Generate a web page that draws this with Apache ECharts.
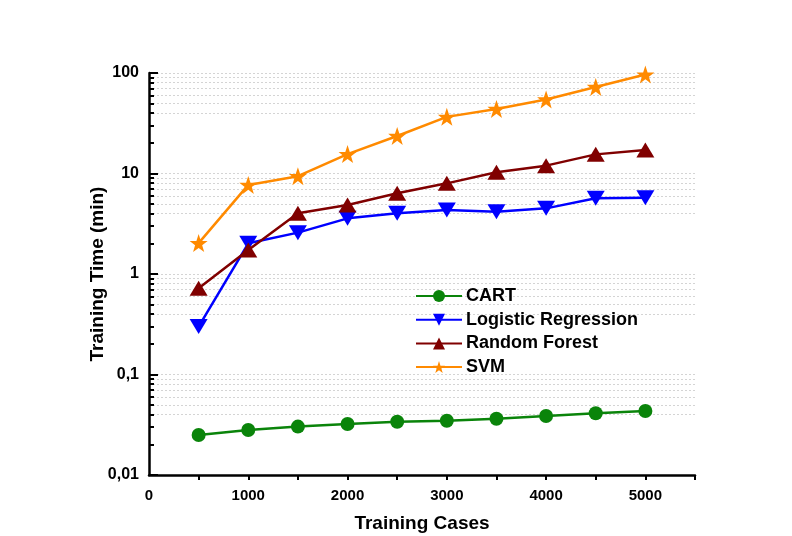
<!DOCTYPE html>
<html>
<head>
<meta charset="utf-8">
<script src="https://cdn.jsdelivr.net/npm/echarts@6/dist/echarts.min.js"></script>
<style>html,body{margin:0;padding:0;background:#fff;}#c{width:792px;height:536px;}</style>
</head>
<body>
<div id="c"></div>
<script>
var trainingCases = [500, 1000, 1500, 2000, 2500, 3000, 3500, 4000, 4500, 5000];
var cart = [0.025, 0.028, 0.0303, 0.0322, 0.0339, 0.0347, 0.0363, 0.0386, 0.0411, 0.0433];
var logisticRegression = [0.30, 2.02, 2.58, 3.58, 4.02, 4.33, 4.17, 4.5, 5.66, 5.74];
var randomForest = [0.72, 1.73, 4.02, 4.86, 6.35, 7.98, 10.3, 11.97, 15.5, 17.1];
var svm = [2.03, 7.7, 9.4, 15.6, 23.6, 36.6, 43.8, 54.5, 72.6, 96.5];

var xTickLabels = [0, 1000, 2000, 3000, 4000, 5000];
var xTickMarks = [500, 1000, 1500, 2000, 2500, 3000, 3500, 4000, 4500, 5000, 5500];
var yMajor = [0.01, 0.1, 1, 10, 100];
var yMinor = [];
var yGrid = [];
[0.01, 0.1, 1, 10].forEach(function (d) {
  for (var k = 2; k <= 9; k++) yMinor.push(+(d * k).toPrecision(3));
  for (var m = 4; m <= 10; m++) yGrid.push(+(d * m).toPrecision(3));
});

function pairs(vals) { return trainingCases.map(function (x, i) { return [x, vals[i]]; }); }

var star = 'path://M50,2 L61.8,36.2 L97.6,36.2 L68.7,57.6 L79.5,92 L50,71 L20.5,92 L31.3,57.6 L2.4,36.2 L38.2,36.2 Z';
var font = '"Liberation Sans", Arial, sans-serif';

var chart = echarts.init(document.getElementById('c'), null, { renderer: 'canvas' });
chart.setOption({
  backgroundColor: '#ffffff',
  animation: false,
  grid: { left: 149, right: 97, top: 73, bottom: 61, containLabel: false, outerBoundsMode: 'none' },
  legend: {
    orient: 'vertical', left: 410, top: 282,
    itemWidth: 46, itemHeight: 15, itemGap: 5.7,
    textStyle: { fontFamily: font, fontWeight: 'bold', fontSize: 18, color: '#000', lineHeight: 18, padding: [0, 0, 0, -1] },
    data: ['CART', 'Logistic Regression', 'Random Forest', 'SVM']
  },
  xAxis: [{
    type: 'value', min: 0, max: 5500,
    name: 'Training Cases', nameLocation: 'middle', nameGap: 39, nameMoveOverlap: false,
    nameTextStyle: { fontFamily: font, fontWeight: 'bold', fontSize: 19, color: '#000' },
    axisLine: { show: true, onZero: false, lineStyle: { color: '#000', width: 2.5 } },
    axisTick: { show: true, inside: false, length: 5, customValues: xTickMarks, lineStyle: { color: '#000', width: 2 } },
    axisLabel: {
      customValues: xTickLabels, margin: 13, fontFamily: font, fontWeight: 'bold', fontSize: 15, color: '#000',
      formatter: function (v) { return String(v); }
    },
    splitLine: { show: false }
  }],
  yAxis: [{
    type: 'log', logBase: 10, min: 0.01, max: 100, position: 'left',
    name: 'Training Time (min)', nameLocation: 'middle', nameGap: 42, nameMoveOverlap: false,
    nameTextStyle: { fontFamily: font, fontWeight: 'bold', fontSize: 19, color: '#000' },
    axisLine: { show: true, lineStyle: { color: '#000', width: 2.5 } },
    axisTick: { show: true, inside: true, length: 9, customValues: yMajor, lineStyle: { color: '#000', width: 2 } },
    axisLabel: {
      customValues: yMajor, margin: 10, fontFamily: font, fontWeight: 'bold', fontSize: 16, color: '#000',
      formatter: function (v) { return String(v).replace('.', ','); }
    },
    splitLine: { show: false }
  }, {
    type: 'log', logBase: 10, min: 0.01, max: 100, position: 'left', offset: 0,
    axisLine: { show: false },
    axisTick: { show: true, inside: true, length: 5, customValues: yMinor, lineStyle: { color: '#000', width: 2 } },
    axisLabel: { show: false },
    splitLine: { show: false }
  }, {
    type: 'log', logBase: 10, min: 0.01, max: 100, position: 'left', offset: 0,
    axisLine: { show: false },
    axisTick: { show: true, length: 0, customValues: yGrid, lineStyle: { opacity: 0 } },
    axisLabel: { show: false },
    splitLine: { show: true, lineStyle: { color: '#d4d4d4', width: 1, type: [2, 2] } }
  }],
  series: [{
    name: 'CART', type: 'line', data: pairs(cart),
    symbol: 'circle', symbolSize: 14,
    itemStyle: { color: '#0a840a' }, lineStyle: { color: '#0a840a', width: 2.5 }, z: 3
  }, {
    name: 'Logistic Regression', type: 'line', data: pairs(logisticRegression),
    symbol: 'triangle', symbolSize: [18, 15], symbolRotate: 180,
    itemStyle: { color: '#0000ff' }, lineStyle: { color: '#0000ff', width: 2.5 }, z: 3
  }, {
    name: 'Random Forest', type: 'line', data: pairs(randomForest),
    symbol: 'triangle', symbolSize: [18, 15],
    itemStyle: { color: '#800000' }, lineStyle: { color: '#800000', width: 2.5 }, z: 4
  }, {
    name: 'SVM', type: 'line', data: pairs(svm),
    symbol: star, symbolSize: 18,
    itemStyle: { color: '#ff8a00' }, lineStyle: { color: '#ff8a00', width: 2.5 }, z: 5
  }]
});
</script>
</body>
</html>
